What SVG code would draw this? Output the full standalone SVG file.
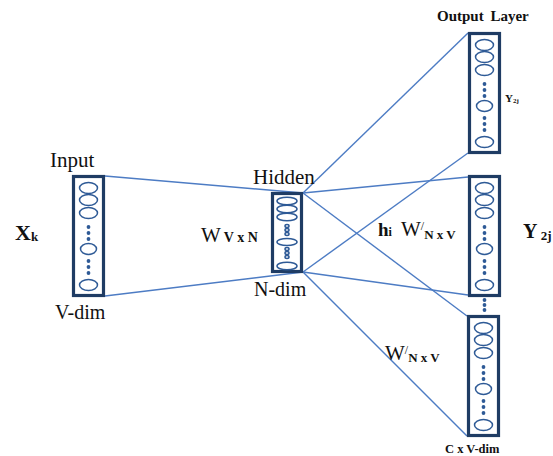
<svg xmlns="http://www.w3.org/2000/svg" xmlns:xlink="http://www.w3.org/1999/xlink" width="553" height="456" viewBox="0 0 553 456" font-family="'Liberation Serif', 'DejaVu Serif', serif">
  <style>
    .frame { fill: #ffffff; stroke: #1f3c64; stroke-width: 3.2; }
    .unit { fill: none; stroke: #2e5a96; stroke-width: 1.5; }
    .dot { fill: #2e5a96; }
    .link { stroke: #4d7cc4; stroke-width: 1.4; fill: none; }
    text { font-family: 'Liberation Serif', 'DejaVu Serif', serif; fill: #111111; }
    .b { font-weight: bold; }
  </style>
  <defs>
    <!-- a layer column: framed stack of neuron units -->
    <g id="col">
      <rect class="frame" x="1.5" y="1.5" width="30" height="119"/>
      <ellipse class="unit" cx="16.5" cy="13" rx="9" ry="5.5"/>
      <ellipse class="unit" cx="16.5" cy="25" rx="9" ry="5.5"/>
      <ellipse class="unit" cx="16.5" cy="38" rx="9" ry="5.5"/>
      <circle class="dot" cx="16.5" cy="52" r="1.9"/>
      <circle class="dot" cx="16.5" cy="58" r="1.9"/>
      <circle class="dot" cx="16.5" cy="64" r="1.9"/>
      <ellipse class="unit" cx="16.5" cy="74" rx="8" ry="5.5"/>
      <circle class="dot" cx="16.5" cy="86" r="1.9"/>
      <circle class="dot" cx="16.5" cy="92" r="1.9"/>
      <circle class="dot" cx="16.5" cy="98" r="1.9"/>
      <ellipse class="unit" cx="16.5" cy="110" rx="9" ry="5.5"/>
    </g>
  </defs>

  <rect width="553" height="456" fill="#ffffff"/>

  <!-- weight connections -->
  <g id="connectors">
    <line class="link" x1="105" y1="176" x2="303" y2="193"/>
    <line class="link" x1="105" y1="296" x2="303" y2="272"/>
    <line class="link" x1="303" y1="193" x2="468" y2="33"/>
    <line class="link" x1="303" y1="193" x2="468" y2="177"/>
    <line class="link" x1="303" y1="193" x2="467" y2="316"/>
    <line class="link" x1="303" y1="272" x2="468" y2="153"/>
    <line class="link" x1="303" y1="272" x2="468" y2="295"/>
    <line class="link" x1="303" y1="272" x2="467" y2="436"/>
  </g>

  <!-- input layer -->
  <g id="input">
    <use xlink:href="#col" x="72" y="175"/>
    <text x="50" y="167" font-size="21">Input</text>
    <text x="55" y="319" font-size="20">V-dim</text>
    <text class="b" x="15" y="240" font-size="22">X<tspan font-size="13" dy="1">k</tspan></text>
  </g>

  <!-- hidden layer -->
  <g id="hidden">
    <rect class="frame" x="272.5" y="193.5" width="29" height="78"/>
    <ellipse class="unit" cx="287" cy="201" rx="10" ry="3.8"/>
    <ellipse class="unit" cx="287" cy="209" rx="10" ry="3.8"/>
    <ellipse class="unit" cx="287" cy="217" rx="10" ry="3.8"/>
    <ellipse class="unit" cx="287" cy="226" rx="2" ry="1.5"/>
    <ellipse class="unit" cx="287" cy="230" rx="2" ry="1.5"/>
    <ellipse class="unit" cx="287" cy="234" rx="2" ry="1.5"/>
    <ellipse class="unit" cx="287" cy="242" rx="10" ry="3.5"/>
    <ellipse class="unit" cx="287" cy="249" rx="2" ry="1.5"/>
    <ellipse class="unit" cx="287" cy="253" rx="2" ry="1.5"/>
    <ellipse class="unit" cx="287" cy="257" rx="2" ry="1.5"/>
    <ellipse class="unit" cx="287" cy="266" rx="10" ry="3.8"/>
    <text x="253" y="184" font-size="21">Hidden</text>
    <text x="254" y="296" font-size="20">N-dim</text>
    <text x="201" y="242" font-size="21">W<tspan class="b" font-size="14" dx="3">V x N</tspan></text>
  </g>

  <!-- output panel 1 -->
  <g id="output1">
    <use xlink:href="#col" x="468" y="32"/>
    <text class="b" x="437" y="21" font-size="15" word-spacing="3">Output Layer</text>
    <text class="b" x="505" y="102" font-size="11">Y<tspan font-size="7" dy="1">2j</tspan></text>
  </g>

  <!-- output panel 2 -->
  <g id="output2">
    <use xlink:href="#col" x="468" y="175"/>
    <text class="b" x="378" y="236" font-size="19">h<tspan font-size="12">i</tspan></text>
    <text x="401" y="236" font-size="21">W<tspan font-size="12" dy="-6">/</tspan><tspan class="b" font-size="13" dy="9">N x V</tspan></text>
    <text class="b" x="523" y="238" font-size="20">Y<tspan font-size="13" dy="2"> 2j</tspan></text>
    <circle class="dot" cx="484.5" cy="300" r="1.9"/>
    <circle class="dot" cx="484.5" cy="305" r="1.9"/>
    <circle class="dot" cx="484.5" cy="310" r="1.9"/>
  </g>

  <!-- output panel C -->
  <g id="output3">
    <use xlink:href="#col" x="467" y="315"/>
    <text x="385" y="360" font-size="21">W<tspan font-size="12" dy="-6">/</tspan><tspan class="b" font-size="13" dy="8">N x V</tspan></text>
    <text class="b" x="445" y="453" font-size="12.5">C x V-dim</text>
  </g>
</svg>
